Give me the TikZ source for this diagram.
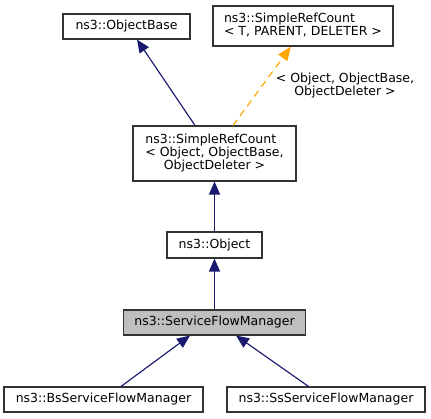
\documentclass[tikz,border=0pt]{standalone}
\usepackage{fontspec}
\setmainfont{DejaVu Sans}
\usetikzlibrary{arrows.meta}
\definecolor{edgeblue}{HTML}{191970}
\definecolor{edgeorange}{HTML}{FFA500}
\definecolor{curfill}{HTML}{BFBFBF}
\begin{document}
\begin{tikzpicture}[x=1pt,y=-1pt,
  cls/.style={draw=black!80, line width=1.1pt, fill=white, rectangle, inner sep=0pt,
    font=\fontsize{12.5}{14.5}\selectfont, text=black},
  inh/.style={edgeblue, line width=1.15pt, -{Triangle[length=13pt,width=11pt]}},
  tmpl/.style={edgeorange, line width=1.15pt, dash pattern=on 7pt off 5pt, -{Triangle[length=14pt,width=11pt]}},
  lbl/.style={font=\fontsize{12.5}{14.5}\selectfont, align=center, inner sep=0pt}]
\useasboundingbox (0,0) rectangle (431,419);
\node[cls, minimum width=127pt, minimum height=25pt] (ob) at (126.5,26.5) {ns3::ObjectBase};
\node[cls, minimum width=180pt, minimum height=40pt] (srct) at (303,26)
  {\begin{tabular}{@{}l@{}}ns3::SimpleRefCount\\[-1.5pt]< T, PARENT, DELETER >\end{tabular}};
\node[cls, minimum width=163pt, minimum height=55pt] (srco) at (214.5,153.5)
  {\begin{tabular}{@{}l@{}}ns3::SimpleRefCount\\[-1.5pt]< Object, ObjectBase,\\[-1.5pt]\multicolumn{1}{@{}c@{}}{ObjectDeleter >}\end{tabular}};
\node[cls, minimum width=95pt, minimum height=26pt] (obj) at (214.5,245) {ns3::Object};
\node[cls, fill=curfill, minimum width=182pt, minimum height=25pt] (sfm) at (214.5,322.5) {ns3::ServiceFlowManager};
\node[cls, minimum width=199pt, minimum height=25pt] (bs) at (103.5,399.5) {ns3::BsServiceFlowManager};
\node[cls, minimum width=198pt, minimum height=25pt] (ss) at (326,399.5) {ns3::SsServiceFlowManager};
\draw[inh] ([xshift=-19.5pt]srco.north) -- ([xshift=10.5pt]ob.south);
\draw[tmpl] ([xshift=18.5pt]srco.north) -- ([xshift=-12pt]srct.south);
\node[lbl] (tl) at (345,86) {< Object, ObjectBase,\\[-1.5pt]ObjectDeleter >};
\draw[inh] (obj.north) -- (srco.south);
\draw[inh] (sfm.north) -- (obj.south);
\draw[inh] ([xshift=17.5pt]bs.north) -- ([xshift=-24.5pt]sfm.south);
\draw[inh] ([xshift=-17.5pt]ss.north) -- ([xshift=21.5pt]sfm.south);
\end{tikzpicture}
\end{document}
